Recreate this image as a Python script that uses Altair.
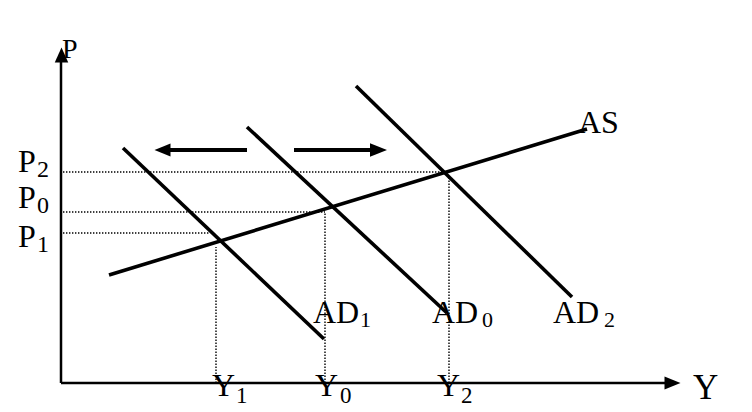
import altair as alt
import pandas as pd

# ---- diagram coordinates (origin = axis corner) ----
# straight curves: AS and the three AD curves
curve_names = ["AS", "AD1", "AD0", "AD2"]
curve_x0 = [48, 62, 186, 295]
curve_y0 = [108, 235, 256, 297]
curve_x1 = [526, 263, 386, 511]
curve_y1 = [254, 44, 70, 86]

# price levels (dotted horizontal guides)
price_names = ["P2", "P0", "P1"]
price_levels = [211, 171, 150]
price_reach = [382, 264, 149]

# output levels (dotted vertical guides)
output_names = ["Y1", "Y0", "Y2"]
output_levels = [155, 264, 388]
output_reach = [136, 171, 205]

# axes
axis_x0 = [0, 0]
axis_y0 = [0, 0]
axis_x1 = [0, 606]
axis_y1 = [322, 0]

# shift arrows (shafts)
shift_x0 = [109, 233]
shift_x1 = [186, 309]
shift_y = [233, 233]

# arrow heads
head_x = [0.5, 611.5, 101.5, 317.5]
head_y = [328, 0, 233, 233]
head_shape = ["up", "right", "left", "right"]
head_size = [225, 256, 256, 289]

# main labels
label_text = ["P", "P", "P", "P", "Y", "Y", "Y", "Y", "AS", "AD", "AD", "AD"]
label_x = [1, -43, -43, -43, 151, 254, 376, 632, 517, 252, 371, 492]
label_y = [325, 211, 175, 136, -13, -13, -13, -16, 250, 60, 60, 60]
label_size = [28, 32, 32, 32, 32, 32, 32, 35, 32, 32, 32, 32]

# subscripts
sub_text = ["2", "0", "1", "1", "0", "2", "1", "0", "2"]
sub_x = [-24, -24, -24, 175, 279, 400, 299, 421, 543]
sub_y = [206, 170, 131, -20, -20, -20, 56, 56, 56]
sub_size = [24, 24, 24, 23, 23, 23, 22, 22, 22]

shape_paths = {
    "up": "M0,-1L-0.9,1L0.9,1Z",
    "right": "M1,0L-1,-0.8L-1,0.8Z",
    "left": "M-1,0L1,-0.8L1,0.8Z",
}

xs = alt.Scale(domain=[-53, 683], nice=False, zero=False)
ys = alt.Scale(domain=[-29, 375], nice=False, zero=False)


def X(f):
    return alt.X(f, type="quantitative", scale=xs, axis=None)


def Y(f):
    return alt.Y(f, type="quantitative", scale=ys, axis=None)


curves = pd.DataFrame({"name": curve_names, "x": curve_x0, "y": curve_y0,
                       "x2": curve_x1, "y2": curve_y1})
hguides = pd.DataFrame({"name": price_names, "x": [2] * 3, "x2": price_reach,
                        "y": price_levels})
vguides = pd.DataFrame({"name": output_names, "x": output_levels,
                        "y": [0] * 3, "y2": output_reach})
axes = pd.DataFrame({"x": axis_x0, "y": axis_y0, "x2": axis_x1, "y2": axis_y1})
shafts = pd.DataFrame({"x": shift_x0, "x2": shift_x1, "y": shift_y})
heads = pd.DataFrame({"x": head_x, "y": head_y,
                      "shape": [shape_paths[s] for s in head_shape],
                      "size": head_size})
labels = pd.DataFrame({"text": label_text, "x": label_x, "y": label_y,
                       "size": label_size})
subs = pd.DataFrame({"text": sub_text, "x": sub_x, "y": sub_y, "size": sub_size})

dot = dict(color="black", strokeWidth=1.4, strokeDash=[1.4, 1.6])

h_layer = alt.Chart(hguides).mark_rule(**dot).encode(x=X("x"), x2="x2", y=Y("y"))
v_layer = alt.Chart(vguides).mark_rule(**dot).encode(x=X("x"), y=Y("y"), y2="y2")
axis_layer = alt.Chart(axes).mark_rule(color="black", strokeWidth=2.5).encode(
    x=X("x"), y=Y("y"), x2="x2", y2="y2")
curve_layer = alt.Chart(curves).mark_rule(color="black", strokeWidth=3.6,
                                          strokeCap="butt").encode(
    x=X("x"), y=Y("y"), x2="x2", y2="y2")
shaft_layer = alt.Chart(shafts).mark_rule(color="black", strokeWidth=4).encode(
    x=X("x"), x2="x2", y=Y("y"))
head_layers = [
    alt.Chart(heads.iloc[[i]]).mark_point(
        filled=True, color="black", opacity=1, strokeWidth=0,
        shape=heads["shape"][i], size=int(heads["size"][i])
    ).encode(x=X("x"), y=Y("y"))
    for i in range(len(heads))
]

font = "Liberation Serif"
label_layer = alt.Chart(labels).mark_text(
    font=font, align="left", baseline="alphabetic", color="black"
).encode(x=X("x"), y=Y("y"), text="text:N",
         size=alt.Size("size:Q", scale=None, legend=None))
sub_layer = alt.Chart(subs).mark_text(
    font=font, align="left", baseline="alphabetic", color="black"
).encode(x=X("x"), y=Y("y"), text="text:N",
         size=alt.Size("size:Q", scale=None, legend=None))

chart = alt.layer(
    h_layer, v_layer, axis_layer, curve_layer, shaft_layer, *head_layers,
    label_layer, sub_layer
).properties(
    width=736, height=404, padding=0, background="white",
    autosize=alt.AutoSizeParams(type="none")
).configure_view(stroke=None)

chart.save("out.html", embed_options={"renderer": "svg", "actions": False})
